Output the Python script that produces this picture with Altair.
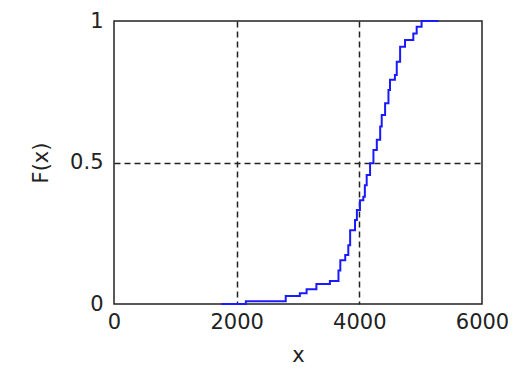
import altair as alt
import pandas as pd

# ECDF points
xs = [1750, 2150, 2800, 3030, 3140, 3300, 3520, 3660, 3690, 3770, 3820, 3850,
      3930, 3960, 4010, 4065, 4090, 4120, 4175, 4230, 4285, 4340, 4365, 4420,
      4475, 4500, 4580, 4610, 4665, 4745, 4880, 4935, 5015, 5290]
fs = [0.0, 0.01, 0.028, 0.038, 0.052, 0.071, 0.081, 0.118, 0.155, 0.173, 0.208, 0.261,
      0.297, 0.332, 0.367, 0.379, 0.42, 0.456, 0.497, 0.544, 0.58, 0.627, 0.668, 0.709,
      0.756, 0.792, 0.809, 0.856, 0.909, 0.933, 0.956, 0.98, 1.0, 1.0]

x_ticks = [0, 2000, 4000, 6000]
y_ticks = [0, 0.5, 1]

df = pd.DataFrame({"x": xs, "F": fs})

x_grid_op = {"condition": {"test": "datum.value == 0 || datum.value == 6000", "value": 0}, "value": 1}
y_grid_op = {"condition": {"test": "datum.value == 0 || datum.value == 1", "value": 0}, "value": 1}

chart = alt.Chart(df).mark_line(
    interpolate="step-after", color="#1a1aff", strokeWidth=2
).encode(
    x=alt.X("x:Q", title="x",
            scale=alt.Scale(domain=[0, 6000], nice=False, zero=False),
            axis=alt.Axis(values=x_ticks, format="d", grid=True, gridDash=[6, 4],
                          gridColor="#222", gridWidth=1.5, gridOpacity=x_grid_op,
                          ticks=False, domain=False, labelFlush=False,
                          labelFont="DejaVu Sans", labelFontSize=21, labelColor="#222",
                          labelPadding=7, titleFont="DejaVu Sans", titleFontSize=21,
                          titleFontWeight="normal", titleColor="#222", titlePadding=12)),
    y=alt.Y("F:Q", title="F(x)",
            scale=alt.Scale(domain=[0, 1], nice=False),
            axis=alt.Axis(values=y_ticks, format="~g", grid=True, gridDash=[6, 4],
                          gridColor="#222", gridWidth=1.5, gridOpacity=y_grid_op,
                          ticks=False, domain=False, labelFlush=False,
                          labelFont="DejaVu Sans", labelFontSize=21, labelColor="#222",
                          labelPadding=11,
                          titleFont="DejaVu Sans", titleFontSize=21,
                          titleFontWeight="normal", titleColor="#222", titlePadding=18)),
).properties(
    width=368, height=283,
    autosize=alt.AutoSizeParams(type="none"),
    padding={"left": 106, "top": 13, "right": 26, "bottom": 64},
).configure(
    background="white"
).configure_view(
    stroke="#222", strokeWidth=1.5
)

chart.save("out.html", embed_options={"renderer": "svg", "actions": False})
